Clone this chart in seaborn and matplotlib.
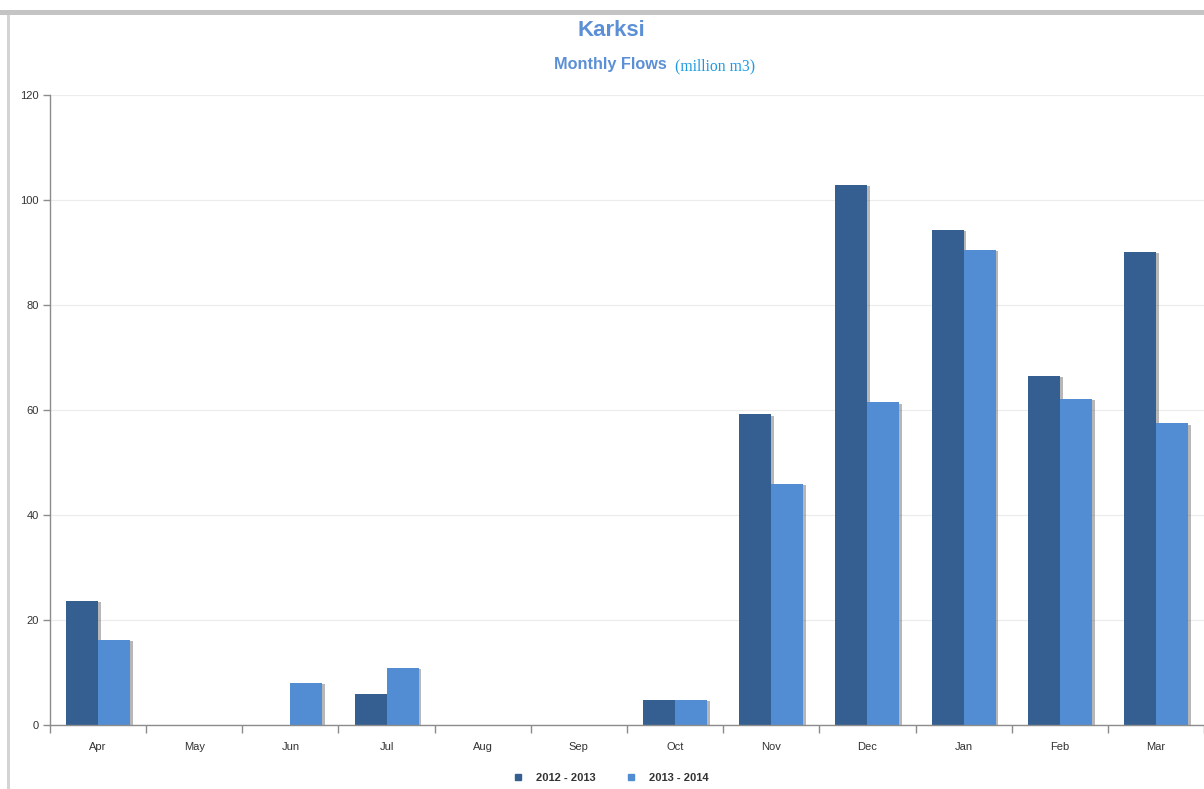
import matplotlib
matplotlib.use("Agg")
import matplotlib.pyplot as plt
import matplotlib.patheffects as pe
from matplotlib.lines import Line2D
from matplotlib.patches import Rectangle
import seaborn as sns
import pandas as pd

# monthly flows (million m3) for Karksi
months = ['Apr', 'May', 'Jun', 'Jul', 'Aug', 'Sep', 'Oct', 'Nov', 'Dec', 'Jan', 'Feb', 'Mar']
seasons = ['2012 - 2013', '2013 - 2014']
flow_2012 = [23.6, 0, 0, 5.9, 0, 0, 4.8, 59.2, 102.9, 94.3, 66.5, 90.1]
flow_2013 = [16.2, 0, 8.0, 10.9, 0, 0, 4.8, 45.9, 61.5, 90.5, 62.1, 57.5]
colors = ['#365f91', '#528dd4']

df = pd.DataFrame({
    'Month': months * 2,
    'Season': [seasons[0]] * len(months) + [seasons[1]] * len(months),
    'Flow': flow_2012 + flow_2013,
})

sns.set_theme(style='white')
plt.rcParams['font.family'] = ['Liberation Sans', 'DejaVu Sans']

fig = plt.figure(figsize=(12.04, 7.89), dpi=100)
ax = fig.add_axes([50 / 1204, 1 - 725 / 789, 1 - 50 / 1204, (725 - 95) / 789])

sns.barplot(data=df, x='Month', y='Flow', hue='Season', order=months, hue_order=seasons,
            palette=colors, width=0.667, saturation=1, ax=ax, legend=False)

# soft drop shadow like the original
for bar in ax.patches:
    bar.set_linewidth(0)
    bar.set_path_effects([pe.SimplePatchShadow(offset=(2, -1), alpha=0.35, shadow_rgbFace='#333333'),
                          pe.Normal()])

ax.set_xlim(-0.5, len(months) - 0.5)
ax.set_ylim(0, 120)
ax.set_yticks(range(0, 121, 20))
ax.set_xlabel('')
ax.set_ylabel('')
ax.yaxis.grid(True, color='#ececec', linewidth=0.8)
ax.set_axisbelow(True)

for s in ['top', 'right']:
    ax.spines[s].set_visible(False)
for s in ['left', 'bottom']:
    ax.spines[s].set_color('#8c8c8c')
    ax.spines[s].set_linewidth(1)

ax.tick_params(axis='y', which='major', left=True, length=5, width=1, color='#8c8c8c',
               labelsize=8, labelcolor='#333333', pad=3)
ax.tick_params(axis='x', which='major', bottom=False, length=0, labelsize=8,
               labelcolor='#333333', pad=12)
ax.set_xticks([i - 0.5 for i in range(len(months) + 1)], minor=True)
ax.tick_params(axis='x', which='minor', bottom=True, length=6, width=1, color='#8c8c8c')

# titles
fig.text(611 / 1204, 1 - 30 / 789, 'Karksi', ha='center', va='center',
         fontsize=16, fontweight='bold', color='#5b8fd6')
fig.text(667 / 1204, 1 - 65 / 789, 'Monthly Flows', ha='right', va='center',
         fontsize=11.7, fontweight='bold', color='#5b8fd6')
fig.text(675 / 1204, 1 - 66 / 789, '(million m3)', ha='left', va='center',
         fontsize=11.3, color='#1e9be0', family=['Liberation Serif', 'DejaVu Serif'])

# legend
handles = [Line2D([], [], marker='s', linestyle='none', markersize=5,
                  markerfacecolor=c, markeredgecolor=c) for c in colors]
leg = fig.legend(handles, seasons, loc='center', bbox_to_anchor=(608 / 1204, 1 - 778 / 789),
                 ncol=2, frameon=False, fontsize=8, handletextpad=0.6, columnspacing=2.2)
for t in leg.get_texts():
    t.set_fontweight('bold')
    t.set_color('#333333')

# page border seen in the screenshot
fig.patches.append(Rectangle((0, 1 - 15 / 789), 1, 5 / 789, transform=fig.transFigure,
                             facecolor='#c4c4c4', edgecolor='none'))
fig.patches.append(Rectangle((7 / 1204, 0), 3 / 1204, 1 - 15 / 789, transform=fig.transFigure,
                             facecolor='#d4d4d4', edgecolor='none'))

fig.savefig('out.png', dpi=100, facecolor='white')
